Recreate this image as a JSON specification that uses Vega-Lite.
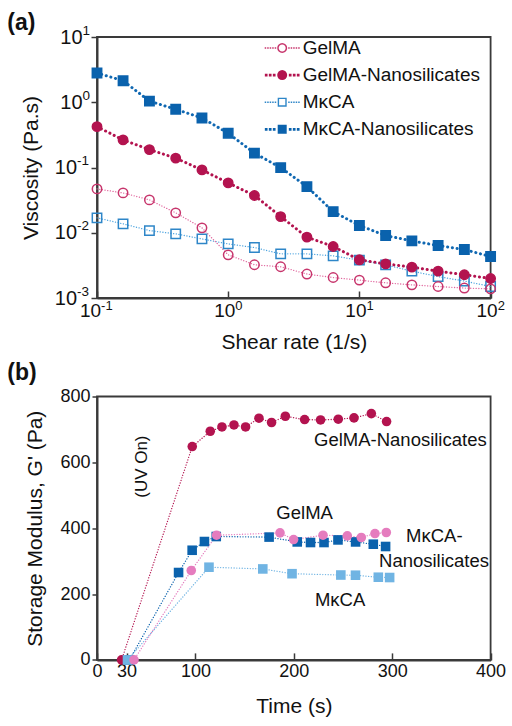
{
  "$schema": "https://vega.github.io/schema/vega-lite/v6.json",
  "padding": {"left": 6, "top": 11, "right": 5, "bottom": 5},
  "background": "white",
  "spacing": 8.5,
  "resolve": {"scale": {"color": "independent", "fill": "independent", "stroke": "independent", "shape": "independent", "strokeWidth": "independent", "strokeDash": "independent"}},
  "config": {
    "font": "Liberation Sans",
    "view": {"stroke": "#3a3a3a", "strokeWidth": 1.8},
    "axis": {"domainColor": "#3a3a3a", "domainWidth": 2, "tickColor": "#3a3a3a", "tickWidth": 1.5, "labelFont": "Liberation Sans", "labelColor": "#111", "titleFont": "Liberation Sans", "titleFontWeight": "normal", "titleColor": "#111", "grid": false, "labelFontSize": 18, "titleFontSize": 21, "labelFlush": false, "labelOverlap": false},
    "title": {"font": "Liberation Sans", "fontSize": 23, "fontWeight": "bold", "anchor": "start", "frame": "group", "color": "#111"}
  },
  "vconcat": [
    {
      "title": {"text": "(a)", "dx": -89.7, "offset": -12},
      "width": 393.6,
      "height": 261,
      "resolve": {"axis": {"x": "independent", "y": "independent"}},
      "data": {"values": [
        {"series": "MκCA", "shear": 0.1, "visc": 0.0169},
        {"series": "MκCA", "shear": 0.158, "visc": 0.0137},
        {"series": "MκCA", "shear": 0.251, "visc": 0.0108},
        {"series": "MκCA", "shear": 0.398, "visc": 0.00962},
        {"series": "MκCA", "shear": 0.631, "visc": 0.00806},
        {"series": "MκCA", "shear": 1, "visc": 0.00676},
        {"series": "MκCA", "shear": 1.585, "visc": 0.00593},
        {"series": "MκCA", "shear": 2.512, "visc": 0.00475},
        {"series": "MκCA", "shear": 3.981, "visc": 0.00475},
        {"series": "MκCA", "shear": 6.31, "visc": 0.00443},
        {"series": "MκCA", "shear": 10, "visc": 0.0038},
        {"series": "MκCA", "shear": 15.85, "visc": 0.00322},
        {"series": "MκCA", "shear": 25.12, "visc": 0.00258},
        {"series": "MκCA", "shear": 39.81, "visc": 0.00213},
        {"series": "MκCA", "shear": 63.1, "visc": 0.00182},
        {"series": "MκCA", "shear": 100, "visc": 0.0015},
        {"series": "GelMA", "shear": 0.1, "visc": 0.047},
        {"series": "GelMA", "shear": 0.158, "visc": 0.0408},
        {"series": "GelMA", "shear": 0.251, "visc": 0.0319},
        {"series": "GelMA", "shear": 0.398, "visc": 0.0202},
        {"series": "GelMA", "shear": 0.631, "visc": 0.0119},
        {"series": "GelMA", "shear": 1, "visc": 0.00459},
        {"series": "GelMA", "shear": 1.585, "visc": 0.00323},
        {"series": "GelMA", "shear": 2.512, "visc": 0.00301},
        {"series": "GelMA", "shear": 3.981, "visc": 0.00233},
        {"series": "GelMA", "shear": 6.31, "visc": 0.00206},
        {"series": "GelMA", "shear": 10, "visc": 0.00188},
        {"series": "GelMA", "shear": 15.85, "visc": 0.00171},
        {"series": "GelMA", "shear": 25.12, "visc": 0.00159},
        {"series": "GelMA", "shear": 39.81, "visc": 0.0015},
        {"series": "GelMA", "shear": 63.1, "visc": 0.00142},
        {"series": "GelMA", "shear": 100, "visc": 0.00138},
        {"series": "MκCA-Nanosilicates", "shear": 0.1, "visc": 2.81},
        {"series": "MκCA-Nanosilicates", "shear": 0.158, "visc": 2.14},
        {"series": "MκCA-Nanosilicates", "shear": 0.251, "visc": 1.04},
        {"series": "MκCA-Nanosilicates", "shear": 0.398, "visc": 0.78},
        {"series": "MκCA-Nanosilicates", "shear": 0.631, "visc": 0.575},
        {"series": "MκCA-Nanosilicates", "shear": 1, "visc": 0.335},
        {"series": "MκCA-Nanosilicates", "shear": 1.585, "visc": 0.166},
        {"series": "MκCA-Nanosilicates", "shear": 2.512, "visc": 0.0996},
        {"series": "MκCA-Nanosilicates", "shear": 3.981, "visc": 0.051},
        {"series": "MκCA-Nanosilicates", "shear": 6.31, "visc": 0.0211},
        {"series": "MκCA-Nanosilicates", "shear": 10, "visc": 0.0129},
        {"series": "MκCA-Nanosilicates", "shear": 15.85, "visc": 0.00906},
        {"series": "MκCA-Nanosilicates", "shear": 25.12, "visc": 0.00751},
        {"series": "MκCA-Nanosilicates", "shear": 39.81, "visc": 0.00637},
        {"series": "MκCA-Nanosilicates", "shear": 63.1, "visc": 0.00553},
        {"series": "MκCA-Nanosilicates", "shear": 100, "visc": 0.00432},
        {"series": "GelMA-Nanosilicates", "shear": 0.1, "visc": 0.423},
        {"series": "GelMA-Nanosilicates", "shear": 0.158, "visc": 0.265},
        {"series": "GelMA-Nanosilicates", "shear": 0.251, "visc": 0.188},
        {"series": "GelMA-Nanosilicates", "shear": 0.398, "visc": 0.139},
        {"series": "GelMA-Nanosilicates", "shear": 0.631, "visc": 0.0919},
        {"series": "GelMA-Nanosilicates", "shear": 1, "visc": 0.0581},
        {"series": "GelMA-Nanosilicates", "shear": 1.585, "visc": 0.0372},
        {"series": "GelMA-Nanosilicates", "shear": 2.512, "visc": 0.0177},
        {"series": "GelMA-Nanosilicates", "shear": 3.981, "visc": 0.00857},
        {"series": "GelMA-Nanosilicates", "shear": 6.31, "visc": 0.00615},
        {"series": "GelMA-Nanosilicates", "shear": 10, "visc": 0.00385},
        {"series": "GelMA-Nanosilicates", "shear": 15.85, "visc": 0.00334},
        {"series": "GelMA-Nanosilicates", "shear": 25.12, "visc": 0.00297},
        {"series": "GelMA-Nanosilicates", "shear": 39.81, "visc": 0.00258},
        {"series": "GelMA-Nanosilicates", "shear": 63.1, "visc": 0.00227},
        {"series": "GelMA-Nanosilicates", "shear": 100, "visc": 0.00199}
      ]},
      "layer": [
        {
          "mark": {"type": "line", "strokeCap": "round"},
          "encoding": {
            "x": {"field": "shear", "type": "quantitative", "scale": {"type": "log", "domain": [0.1, 100]},
              "axis": {"values": [0.1, 1, 10, 100], "labelExpr": "'10'", "title": "Shear rate (1/s)", "tickSize": -7, "labelPadding": 10, "titlePadding": 11, "labelFontSize": 19, "labelOffset": {"condition": {"test": "datum.value < 0.5", "value": -7}, "value": -4}}},
            "y": {"field": "visc", "type": "quantitative", "scale": {"type": "log", "domain": [0.001, 10]},
              "axis": {"values": [0.001, 0.01, 0.1, 1, 10], "labelExpr": "'10'", "title": "Viscosity (Pa.s)", "tickSize": 6, "labelFontSize": 20, "titlePadding": 12.5, "labelPadding": {"condition": {"test": "datum.value < 0.5", "value": 14.5}, "value": 9}}},
            "color": {"field": "series", "type": "nominal", "scale": {"domain": ["GelMA-Nanosilicates", "GelMA", "MκCA", "MκCA-Nanosilicates"], "range": ["#b3134f", "#e0649c", "#4aa2de", "#1068b2"]}, "legend": null},
            "strokeWidth": {"field": "series", "type": "nominal", "scale": {"type": "ordinal", "domain": ["GelMA", "GelMA-Nanosilicates", "MκCA-Nanosilicates", "MκCA"], "range": [1.3, 3, 3, 1.3]}, "legend": null},
            "strokeDash": {"field": "series", "type": "nominal", "scale": {"domain": ["MκCA", "GelMA", "GelMA-Nanosilicates", "MκCA-Nanosilicates"], "range": [[0.1, 2.6], [0.1, 2.6], [0.1, 4.7], [0.1, 4.7]]}, "legend": null}
          }
        },
        {
          "mark": {"type": "point", "opacity": 0},
          "encoding": {
            "x": {"field": "shear", "type": "quantitative", "scale": {"type": "log", "domain": [0.1, 100]},
              "axis": {"orient": "bottom", "values": [0.1, 1, 10, 100], "labelExpr": "datum.value < 0.5 ? '-1' : datum.value < 5 ? '0' : datum.value < 50 ? '1' : '2'", "title": null, "domain": false, "ticks": false, "tickSize": 0, "labelPadding": 1, "labelFontSize": 13, "labelAlign": "left", "labelOffset": {"condition": {"test": "datum.value < 0.5", "value": 3.6}, "value": 6.6}}},
            "y": {"field": "visc", "type": "quantitative", "scale": {"type": "log", "domain": [0.001, 10]},
              "axis": {"orient": "left", "values": [0.001, 0.01, 0.1, 1, 10], "labelExpr": "datum.value < 0.005 ? '-3' : datum.value < 0.05 ? '-2' : datum.value < 0.5 ? '-1' : datum.value < 5 ? '0' : '1'", "title": null, "domain": false, "ticks": false, "tickSize": 0, "labelFontSize": 13.5, "labelAlign": "left", "labelBaseline": "middle", "labelOffset": -7, "labelPadding": {"condition": {"test": "datum.value < 0.5", "value": 20.5}, "value": 15}}}
          }
        },
        {
          "mark": {"type": "point", "strokeWidth": 1.5, "opacity": 1, "size": 88},
          "encoding": {
            "x": {"field": "shear", "type": "quantitative", "scale": {"type": "log", "domain": [0.1, 100]}, "axis": null},
            "y": {"field": "visc", "type": "quantitative", "scale": {"type": "log", "domain": [0.001, 10]}, "axis": null},
            "shape": {"field": "series", "type": "nominal", "scale": {"domain": ["MκCA", "MκCA-Nanosilicates", "GelMA", "GelMA-Nanosilicates"], "range": ["square", "square", "circle", "circle"]}, "legend": null},
            "fill": {"field": "series", "type": "nominal", "scale": {"domain": ["GelMA-Nanosilicates", "MκCA-Nanosilicates", "GelMA", "MκCA"], "range": ["#b3134f", "#0a62ad", "transparent", "transparent"]}, "legend": null},
            "stroke": {"field": "series", "type": "nominal", "scale": {"domain": ["GelMA", "GelMA-Nanosilicates", "MκCA", "MκCA-Nanosilicates"], "range": ["#c7356c", "#b3134f", "#2e86c8", "#0a62ad"]},
              "legend": {"orient": "none", "legendX": 175.7, "legendY": 1.5, "title": null, "labelFontSize": 19, "labelFont": "Liberation Sans", "labelColor": "#111", "labelLimit": 0, "symbolSize": 100, "labelOffset": 11, "rowPadding": 7.1, "padding": 0, "symbolStrokeWidth": 0, "symbolOpacity": 1,
                "symbolType": {"expr": "datum.value === 'GelMA' ? 'M-3.5,-0.15h0.3v0.3h-0.3ZM-3,-0.15h0.3v0.3h-0.3ZM-2.5,-0.15h0.3v0.3h-0.3ZM-2,-0.15h0.3v0.3h-0.3ZM-1.5,-0.15h0.3v0.3h-0.3ZM1.2,-0.15h0.3v0.3h-0.3ZM1.7,-0.15h0.3v0.3h-0.3ZM2.2,-0.15h0.3v0.3h-0.3ZM2.7,-0.15h0.3v0.3h-0.3ZM3.2,-0.15h0.3v0.3h-0.3ZM1,0L0.924,0.383L0.707,0.707L0.383,0.924L0,1L-0.383,0.924L-0.707,0.707L-0.924,0.383L-1,0L-0.924,-0.383L-0.707,-0.707L-0.383,-0.924L0,-1L0.383,-0.924L0.707,-0.707L0.924,-0.383ZM0.7,0L0.647,-0.268L0.495,-0.495L0.268,-0.647L0,-0.7L-0.268,-0.647L-0.495,-0.495L-0.647,-0.268L-0.7,0L-0.647,0.268L-0.495,0.495L-0.268,0.647L0,0.7L0.268,0.647L0.495,0.495L0.647,0.268Z' : datum.value === 'GelMA-Nanosilicates' ? 'M-3.47,-0.27h0.54v0.54h-0.54ZM-2.67,-0.27h0.54v0.54h-0.54ZM-1.87,-0.27h0.54v0.54h-0.54ZM1.33,-0.27h0.54v0.54h-0.54ZM2.13,-0.27h0.54v0.54h-0.54ZM2.93,-0.27h0.54v0.54h-0.54ZM1,0L0.924,0.383L0.707,0.707L0.383,0.924L0,1L-0.383,0.924L-0.707,0.707L-0.924,0.383L-1,0L-0.924,-0.383L-0.707,-0.707L-0.383,-0.924L0,-1L0.383,-0.924L0.707,-0.707L0.924,-0.383Z' : datum.value === 'MκCA' ? 'M-3.5,-0.15h0.3v0.3h-0.3ZM-3,-0.15h0.3v0.3h-0.3ZM-2.5,-0.15h0.3v0.3h-0.3ZM-2,-0.15h0.3v0.3h-0.3ZM-1.5,-0.15h0.3v0.3h-0.3ZM1.2,-0.15h0.3v0.3h-0.3ZM1.7,-0.15h0.3v0.3h-0.3ZM2.2,-0.15h0.3v0.3h-0.3ZM2.7,-0.15h0.3v0.3h-0.3ZM3.2,-0.15h0.3v0.3h-0.3ZM-0.9,-0.9L0.9,-0.9L0.9,0.9L-0.9,0.9ZM-0.62,-0.62L-0.62,0.62L0.62,0.62L0.62,-0.62Z' : 'M-3.47,-0.27h0.54v0.54h-0.54ZM-2.67,-0.27h0.54v0.54h-0.54ZM-1.87,-0.27h0.54v0.54h-0.54ZM1.33,-0.27h0.54v0.54h-0.54ZM2.13,-0.27h0.54v0.54h-0.54ZM2.93,-0.27h0.54v0.54h-0.54ZM-0.9,-0.9L0.9,-0.9L0.9,0.9L-0.9,0.9Z'"},
                "symbolFillColor": {"expr": "datum.value === 'GelMA' ? '#c7356c' : datum.value === 'GelMA-Nanosilicates' ? '#b3134f' : datum.value === 'MκCA' ? '#2e86c8' : '#0a62ad'"}
              }
            }
          }
        }
      ]
    },
    {
      "title": {"text": "(b)", "dx": -89.7, "offset": 2},
      "width": 393.6,
      "height": 263.4,
      "layer": [
        {
          "data": {"values": [
            {"series": "GelMA-Nanosilicates", "t": 25, "g": 0},
            {"series": "GelMA-Nanosilicates", "t": 96.8, "g": 648},
            {"series": "GelMA-Nanosilicates", "t": 115.1, "g": 694.5},
            {"series": "GelMA-Nanosilicates", "t": 127, "g": 707.6},
            {"series": "GelMA-Nanosilicates", "t": 139.2, "g": 713.6},
            {"series": "GelMA-Nanosilicates", "t": 151, "g": 707.6},
            {"series": "GelMA-Nanosilicates", "t": 164.6, "g": 734},
            {"series": "GelMA-Nanosilicates", "t": 177.4, "g": 721},
            {"series": "GelMA-Nanosilicates", "t": 191.4, "g": 740},
            {"series": "GelMA-Nanosilicates", "t": 211, "g": 730},
            {"series": "GelMA-Nanosilicates", "t": 227.2, "g": 728.8},
            {"series": "GelMA-Nanosilicates", "t": 245.2, "g": 731},
            {"series": "GelMA-Nanosilicates", "t": 261.2, "g": 735},
            {"series": "GelMA-Nanosilicates", "t": 278.8, "g": 748},
            {"series": "GelMA-Nanosilicates", "t": 294.3, "g": 724},
            {"series": "MκCA-Nanosilicates", "t": 33, "g": 0},
            {"series": "MκCA-Nanosilicates", "t": 82.9, "g": 265.4},
            {"series": "MκCA-Nanosilicates", "t": 96.7, "g": 333},
            {"series": "MκCA-Nanosilicates", "t": 109.2, "g": 359.5},
            {"series": "MκCA-Nanosilicates", "t": 121.2, "g": 374.7},
            {"series": "MκCA-Nanosilicates", "t": 174.9, "g": 373},
            {"series": "MκCA-Nanosilicates", "t": 203.5, "g": 358.3},
            {"series": "MκCA-Nanosilicates", "t": 217, "g": 356.5},
            {"series": "MκCA-Nanosilicates", "t": 230.7, "g": 356.5},
            {"series": "MκCA-Nanosilicates", "t": 244.9, "g": 364.4},
            {"series": "MκCA-Nanosilicates", "t": 262.8, "g": 358.3},
            {"series": "MκCA-Nanosilicates", "t": 280.8, "g": 351.4},
            {"series": "MκCA-Nanosilicates", "t": 293.3, "g": 344.4},
            {"series": "MκCA", "t": 31, "g": 0},
            {"series": "MκCA", "t": 113.8, "g": 281.5},
            {"series": "MκCA", "t": 168.5, "g": 276.3},
            {"series": "MκCA", "t": 198.2, "g": 261.8},
            {"series": "MκCA", "t": 247.8, "g": 257.8},
            {"series": "MκCA", "t": 262.7, "g": 257.2},
            {"series": "MκCA", "t": 285.9, "g": 251.1},
            {"series": "MκCA", "t": 297.4, "g": 250.2},
            {"series": "GelMA", "t": 37.6, "g": 0},
            {"series": "GelMA", "t": 95.8, "g": 271.5},
            {"series": "GelMA", "t": 121.5, "g": 378.7},
            {"series": "GelMA", "t": 186, "g": 385.7},
            {"series": "GelMA", "t": 199.8, "g": 365.6},
            {"series": "GelMA", "t": 229.7, "g": 378.7},
            {"series": "GelMA", "t": 254.4, "g": 376.6},
            {"series": "GelMA", "t": 268.6, "g": 371.7},
            {"series": "GelMA", "t": 282.5, "g": 383.8},
            {"series": "GelMA", "t": 294, "g": 386.9}
          ]},
          "encoding": {
            "x": {"field": "t", "type": "quantitative", "scale": {"domain": [0, 400]},
              "axis": {"values": [0, 30, 100, 200, 300, 400], "title": "Time (s)", "tickSize": -7, "labelPadding": 10, "titlePadding": 15}},
            "y": {"field": "g", "type": "quantitative", "scale": {"domain": [0, 800]},
              "axis": {"values": [0, 200, 400, 600, 800], "title": "Storage Modulus, G' (Pa)", "tickSize": 5, "labelPadding": 2, "titlePadding": 14}}
          },
          "layer": [
            {
              "mark": {"type": "line", "strokeCap": "round", "strokeWidth": 1.3, "strokeDash": [0.1, 2.6]},
              "encoding": {
                "color": {"field": "series", "type": "nominal", "scale": {"domain": ["GelMA", "GelMA-Nanosilicates", "MκCA", "MκCA-Nanosilicates"], "range": ["#e57cbe", "#b3134f", "#70b4e3", "#0b62ad"]}, "legend": null}
              }
            },
            {
              "mark": {"type": "point", "filled": true, "opacity": 1, "size": 92},
              "encoding": {
                "shape": {"field": "series", "type": "nominal", "scale": {"domain": ["GelMA", "GelMA-Nanosilicates", "MκCA", "MκCA-Nanosilicates"], "range": ["circle", "circle", "square", "square"]}, "legend": null},
                "fill": {"field": "series", "type": "nominal", "scale": {"domain": ["GelMA", "GelMA-Nanosilicates", "MκCA", "MκCA-Nanosilicates"], "range": ["#e57cbe", "#b3134f", "#70b4e3", "#0b62ad"]}, "legend": null}
              }
            }
          ]
        },
        {
          "mark": {"type": "rule", "strokeDash": [2, 2.2], "strokeWidth": 2.4, "color": "#222"},
          "encoding": {"x": {"datum": 30, "type": "quantitative"}}
        },
        {
          "data": {"values": [
            {"label": "GelMA-Nanosilicates", "t": 308.3, "g": 667},
            {"label": "GelMA", "t": 211, "g": 445.5},
            {"label": "MκCA-", "t": 342.8, "g": 375},
            {"label": "Nanosilicates", "t": 342.5, "g": 301},
            {"label": "MκCA", "t": 247, "g": 183}
          ]},
          "mark": {"type": "text", "fontSize": 18.5, "font": "Liberation Sans", "color": "#111", "align": "center", "baseline": "middle"},
          "encoding": {
            "x": {"field": "t", "type": "quantitative"},
            "y": {"field": "g", "type": "quantitative"},
            "text": {"field": "label"}
          }
        },
        {
          "data": {"values": [{"label": "(UV On)", "t": 46, "g": 587}]},
          "mark": {"type": "text", "fontSize": 17, "font": "Liberation Sans", "color": "#111", "align": "center", "baseline": "middle", "angle": 270},
          "encoding": {
            "x": {"field": "t", "type": "quantitative"},
            "y": {"field": "g", "type": "quantitative"},
            "text": {"field": "label"}
          }
        }
      ]
    }
  ]
}
